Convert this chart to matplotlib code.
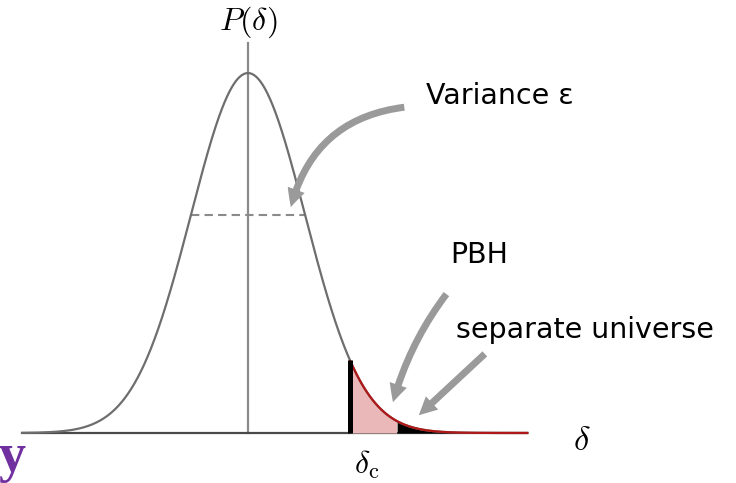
import numpy as np
import matplotlib.pyplot as plt
from matplotlib.patches import FancyArrowPatch

plt.rcParams["mathtext.fontset"] = "cm"

# Gaussian density of the overdensity delta (in units of sigma)
mu = 0.0
sigma = 1.0
delta_lo, delta_hi = -3.96, 4.9      # extent of the drawn curve
delta_c = 1.79                       # collapse threshold
delta_sep = 2.61                     # separate-universe threshold

annot_text = ["Variance ε", "PBH", "separate universe"]
# (tail, tip) of each arrow in (delta, P) coordinates
arrow_tail = [(2.79, 0.906), (3.51, 0.392), (4.19, 0.225)]
arrow_tip = [(0.74, 0.62), (2.53, 0.078), (2.96, 0.044)]
arrow_rad = [0.35, 0.1, 0.0]


def pdf(d):
    return np.exp(-0.5 * ((d - mu) / sigma) ** 2)


fig = plt.figure(figsize=(7.36, 4.83), dpi=100)
ax = fig.add_axes([0, 0, 1, 1])
ax.set_xlim(-4.35, 8.56)
ax.set_ylim(-0.139, 1.203)
ax.set_axis_off()

x = np.linspace(delta_lo, delta_hi, 800)
y = pdf(x)

# axes
ax.plot([delta_lo, delta_hi], [0, 0], color="#4a4a4a", lw=1.6, zorder=2)
ax.plot([mu, mu], [0, 1.083], color="#8a8a8a", lw=1.6, zorder=1)

# curve
ax.plot(x, y, color="#6e6e6e", lw=1.6, zorder=3)

# tail: PBH region (pink) and separate-universe region (black)
m1 = (x >= delta_c) & (x <= delta_sep)
ax.fill_between(x[m1], 0, y[m1], color="#eab8b8", lw=0, zorder=2)
m2 = x >= delta_sep
ax.fill_between(x[m2], 0, y[m2], color="black", lw=0, zorder=2)
mt = x >= delta_c
ax.plot(x[mt], y[mt], color="#b01818", lw=1.6, zorder=4)
ax.plot([delta_c, delta_c], [0, pdf(delta_c)], color="black", lw=3.6,
        solid_capstyle="butt", zorder=5)

# width of the distribution at one sigma
ax.plot([mu - sigma, mu + sigma], [pdf(mu + sigma)] * 2, color="#8a8a8a",
        lw=1.5, ls=(0, (4, 2.5)), zorder=2)

# arrows
for tail, tip, rad in zip(arrow_tail, arrow_tip, arrow_rad):
    ax.add_patch(FancyArrowPatch(
        tail, tip, connectionstyle=f"arc3,rad={rad}",
        arrowstyle="Simple,tail_width=5,head_width=13,head_length=13",
        mutation_scale=1, color="#9a9a9a", lw=0, zorder=6))

# labels
ax.text(mu, 1.14, r"$P(\delta)$", fontsize=23, ha="center", va="center")
ax.text(5.85, -0.02, r"$\delta$", fontsize=25, ha="center", va="center")
ax.text(delta_c + 0.3, -0.088, r"$\delta_{\rm c}$", fontsize=23,
        ha="center", va="center")
ax.text(3.13, 0.935, annot_text[0], fontsize=20.5, va="center")
ax.text(3.55, 0.495, annot_text[1], fontsize=20.5, va="center")
ax.text(3.65, 0.285, annot_text[2], fontsize=20.5, va="center")

fig.text(26 / 736, 12 / 483, "y", fontsize=39, fontweight="bold",
         family="Liberation Serif", color="#7030a0", ha="right",
         va="baseline")

fig.savefig("out.png", dpi=100)
